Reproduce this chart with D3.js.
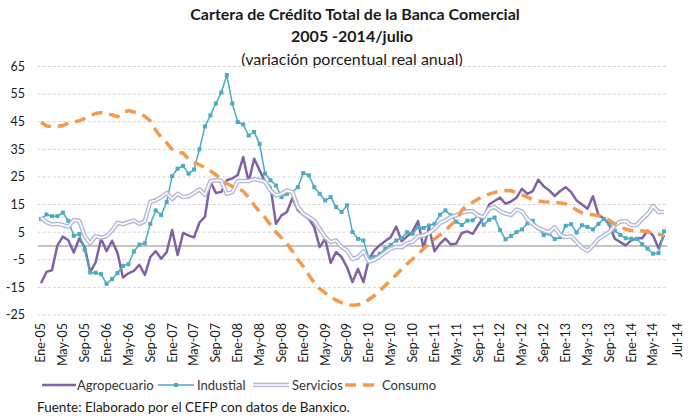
<!DOCTYPE html>
<html>
<head>
<meta charset="utf-8">
<script src="https://cdn.jsdelivr.net/npm/d3@7"></script>
<style>
    body { margin: 0; background: #fff; }
    svg { font-family: Lato, 'Liberation Sans', sans-serif; }
</style>
</head>
<body>
<div id="chart"></div>
<script>
// monthly series, Ene-05 .. Jul-14 (115 points)
var agropecuario = [
    -13.5, -9.4, -8.8, 0.2, 3.4, 2.1, -2.4, 2.7, -0.4, -9.5, -5.9, 2.6,
    -1.9, 1.9, -2.5, -11.4, -9.9, -9, -6.8, -10.5, -4, -1.9, -4.6, -2.2,
    5.8, -3.3, 4.7, 3.8, 3.1, 8.5, 10.6, 23.3, 19.2, 19.6, 23.8, 24.5,
    25.7, 32.2, 23.2, 31.6, 27.4, 23.2, 21.3, 8, 11.1, 12.3, 17.4, 12.9,
    11.3, 9.9, 6.8, -0.4, 2.6, -6.1, -2.2, -4, -7.7, -13.1, -8.3, -13.1,
    -4.7, -1.6, 0.3, 1.8, 3.2, 7, 1.7, 3.5, 5.2, 9, -0.7, 6.7,
    -1.9, 0.8, 2.7, 0.5, 0.9, 4.7, 5.3, 4.4, 7.6, 10.4, 15, 16.3,
    17.5, 15.3, 16.1, 17.5, 20.7, 18.9, 19.9, 24, 21.6, 20.1, 18.1, 19.9,
    21.3, 19.5, 16.5, 15, 13.5, 18, 11.3, 9.9, 7.7, 2.6, 1.4, 0.2,
    2, 2.8, 2.8, 5.6, 3.8, -0.8, 4
];
var industrial = [
    9.8, 11.4, 10.8, 10.8, 12.1, 9.1, 3.7, 4.3, -1.4, -9.6, -9.7, -10.2,
    -13.7, -12, -9.8, -7.2, -6.6, -2, 0.5, 1, 8, 12.9, 11.2, 15.9,
    25.3, 28, 29, 26.2, 27.7, 35, 43.3, 47.3, 51.6, 55.6, 61.9, 51.6,
    44.9, 44, 40, 41.3, 37, 26.2, 23.8, 21.9, 17.7, 18.9, 19.5, 21.3,
    26.4, 25.6, 21.3, 18.9, 16.5, 17.7, 14.1, 12.3, 14.7, 5, 2.6, 2,
    -4.3, -4, -2.8, -1, 0.4, 2, 2.8, 5, 4.4, 6.8, 6.5, 7.4,
    8, 11.3, 12.9, 11.1, 8.8, 7.6, 9.2, 9.3, 11.2, 7.7, 9.5, 10.3,
    5.8, 2.4, 3.6, 5, 6, 8.2, 9.1, 6.4, 4, 4.5, 2.5, 3.2,
    7.3, 7.9, 4.9, 7.5, 6.9, 6, 8, 9.8, 8, 5.6, 4, 2.8,
    2.6, 2.6, 0.6, -1, -2.8, -2.6, 5.3
];
var servicios = [
    10.3, 8.6, 7.8, 8, 7.6, 7, 9.4, 9.1, 3.6, 1, 3.6, 3,
    3.6, 5.6, 8.4, 7.9, 8.6, 9.2, 8, 9, 16, 16.5, 17.7, 19.2,
    17, 18.9, 17.7, 18, 19.2, 20.5, 18.5, 23.5, 23.8, 23.6, 18.9, 19.5,
    23.5, 23.5, 23.5, 24.2, 23.8, 23.2, 20.1, 18.3, 18.9, 20.1, 19.5, 14.1,
    11.7, 10.5, 9.2, 6.2, 3.2, 1.4, 2, -0.4, -1.6, -4.7, -4, -2,
    -5.7, -5, -3.8, -2.3, -1, -0.3, -0.5, 1, 1.5, 3.5, 3.8, 4.7,
    6.2, 8.3, 9.2, 10.5, 11.1, 12, 12.6, 12.6, 11, 10.5, 13.5, 14.1,
    12.6, 11.7, 11.2, 13.2, 12.5, 9.8, 7.8, 6.5, 5.6, 5, 6.8, 4,
    3.2, 3.5, 1.5, -0.6, -1.8, 0.2, 2.5, 3.8, 5, 7.5, 8.8, 9,
    7.5, 7.6, 9.8, 11.5, 14.5, 12.3, 12.3
];
var consumo = [
    44.8, 43.5, 43.2, 43.3, 43.6, 44.5, 45, 45.3, 46.2, 47.2, 48, 48.3,
    47.8, 47.5, 46.8, 48.3, 49, 48.5, 47.9, 47, 45.3, 41.9, 39.3, 37.3,
    35, 34, 33.6, 31.5, 30.3, 29.4, 28.4, 27.2, 25.8, 24, 22.6, 21.6,
    21, 19.8, 17.6, 14.8, 12.5, 10.3, 7.6, 5, 3, 0.8, -1.8, -5,
    -7.4, -10.5, -13.3, -15.5, -17, -18.5, -19.6, -20.5, -21.2, -21.5, -21.3, -20.6,
    -19.4, -18, -16.2, -14.3, -12.4, -10.4, -8.4, -6.5, -4.7, -2.9, -1, 0.8,
    2.5, 4, 5.6, 7.6, 9.2, 13, 14.7, 15.8, 17, 18, 18.8, 19.4,
    19.8, 20.1, 20, 19.3, 18.5, 17.7, 16.8, 16.3, 16, 15.9, 15.8, 15.6,
    15.2, 14.3, 13, 12, 11.5, 11.3, 11, 10.3, 9.3, 8, 6.9, 6.1,
    5.6, 5.4, 5.5, 5.2, 4.6, 4.2, 3.8
];

var yTicks = [-25, -15, -5, 5, 15, 25, 35, 45, 55, 65];
var xTickLabels = [
    'Ene-05', 'May-05', 'Sep-05', 'Ene-06', 'May-06', 'Sep-06', 'Ene-07', 'May-07',
    'Sep-07', 'Ene-08', 'May-08', 'Sep-08', 'Ene-09', 'May-09', 'Sep-09', 'Ene-10',
    'May-10', 'Sep-10', 'Ene-11', 'May-11', 'Sep-11', 'Ene-12', 'May-12', 'Sep-12',
    'Ene-13', 'May-13', 'Sep-13', 'Ene-14', 'May-14', 'Jul-14'
];
// month index of each label (the last one sits past the data, as in the original)
var xTickIndex = [
    0, 4, 8, 12, 16, 20, 24, 28, 32, 36, 40, 44, 48, 52, 56, 60,
    64, 68, 72, 76, 80, 84, 88, 92, 96, 100, 104, 108, 112, 116.5
];
var seriesNames = ['Agropecuario', 'Industial', 'Servicios', 'Consumo'];

var config = {
    width: 699,
    height: 420,
    colors: {
        agro: '#7f62a6',
        ind: '#4aabc2',
        serv: '#b5b9d8',
        cons: '#f5994d',
        grid: '#d4d4d4',
        zero: '#8a8a8a',
        text: '#1a1a1a'
    }
};

var svg = d3.select('#chart').append('svg')
    .attr('width', config.width)
    .attr('height', config.height);

var x = d3.scaleLinear().domain([0, 114]).range([41, 664]);
var y = d3.scaleLinear().domain([-25, 65]).range([315, 66.5]);

// titles
var title = svg.append('g').attr('text-anchor', 'middle').attr('fill', config.colors.text);
title.append('text').attr('x', 355).attr('y', 20)
    .style('font-size', '16px').style('font-weight', 'bold')
    .text('Cartera de Crédito Total de la Banca Comercial');
title.append('text').attr('x', 352).attr('y', 42)
    .style('font-size', '16px').style('font-weight', 'bold')
    .text('2005 -2014/julio');
title.append('text').attr('x', 352).attr('y', 65)
    .style('font-size', '16px')
    .text('(variación porcentual real anual)');

// grid
svg.append('g').selectAll('line')
    .data(yTicks)
    .enter().append('line')
    .attr('x1', x(-0.6)).attr('x2', x(114.6))
    .attr('y1', function(d) { return y(d); })
    .attr('y2', function(d) { return y(d); })
    .attr('stroke', config.colors.grid)
    .attr('stroke-dasharray', '3,2');

svg.append('line')
    .attr('x1', x(-0.6)).attr('x2', x(114.6))
    .attr('y1', y(0)).attr('y2', y(0))
    .attr('stroke', config.colors.zero);

// y labels
svg.append('g').selectAll('text')
    .data(yTicks)
    .enter().append('text')
    .attr('x', 25)
    .attr('y', function(d) { return y(d); })
    .attr('dy', '0.35em')
    .attr('text-anchor', 'end')
    .style('font-size', '12.5px')
    .attr('fill', config.colors.text)
    .text(function(d) { return d; });

// x labels, rotated
svg.append('g').selectAll('text')
    .data(xTickLabels)
    .enter().append('text')
    .attr('transform', function(d, i) {
        return 'translate(' + x(xTickIndex[i]) + ',323) rotate(-90)';
    })
    .attr('dy', '0.35em')
    .attr('text-anchor', 'end')
    .style('font-size', '12.5px')
    .attr('fill', config.colors.text)
    .text(function(d) { return d; });

var line = d3.line()
    .x(function(d, i) { return x(i); })
    .y(function(d) { return y(d); });

// series
svg.append('path').datum(agropecuario)
    .attr('d', line).attr('fill', 'none')
    .attr('stroke', config.colors.agro).attr('stroke-width', 2.5)
    .attr('stroke-linejoin', 'round');

svg.append('path').datum(industrial)
    .attr('d', line).attr('fill', 'none')
    .attr('stroke', config.colors.ind).attr('stroke-width', 1.5);
svg.append('g').selectAll('rect')
    .data(industrial)
    .enter().append('rect')
    .attr('x', function(d, i) { return x(i) - 2; })
    .attr('y', function(d) { return y(d) - 2; })
    .attr('width', 4).attr('height', 4)
    .attr('fill', config.colors.ind);

svg.append('path').datum(servicios)
    .attr('d', line).attr('fill', 'none')
    .attr('stroke', config.colors.serv).attr('stroke-width', 4.5)
    .attr('stroke-linejoin', 'round');
svg.append('path').datum(servicios)
    .attr('d', line).attr('fill', 'none')
    .attr('stroke', '#fff').attr('stroke-width', 1.6)
    .attr('stroke-linejoin', 'round');

svg.append('path').datum(consumo)
    .attr('d', line).attr('fill', 'none')
    .attr('stroke', config.colors.cons).attr('stroke-width', 3.5)
    .attr('stroke-dasharray', '11,7');

// legend
var legendY = 385;
var legendX = [42, 158, 253, 345];
var legend = svg.append('g');
legendX.forEach(function(lx, k) {
    var g = legend.append('g').attr('transform', 'translate(' + lx + ',' + legendY + ')');
    if (k === 0) {
        g.append('line').attr('x1', 0).attr('x2', 34)
            .attr('stroke', config.colors.agro).attr('stroke-width', 2.5);
    } else if (k === 1) {
        g.append('line').attr('x1', 0).attr('x2', 36)
            .attr('stroke', config.colors.ind).attr('stroke-width', 1.5);
        g.append('rect').attr('x', 16).attr('y', -2).attr('width', 4).attr('height', 4)
            .attr('fill', config.colors.ind);
    } else if (k === 2) {
        g.append('line').attr('x1', 0).attr('x2', 36)
            .attr('stroke', config.colors.serv).attr('stroke-width', 4.5);
        g.append('line').attr('x1', 0).attr('x2', 36)
            .attr('stroke', '#fff').attr('stroke-width', 1.6);
    } else {
        g.append('line').attr('x1', 0).attr('x2', 34)
            .attr('stroke', config.colors.cons).attr('stroke-width', 3.5)
            .attr('stroke-dasharray', '11,7');
    }
    g.append('text')
        .attr('x', k === 0 ? 35 : (k === 3 ? 37 : 39))
        .attr('dy', '0.35em')
        .style('font-size', '13px')
        .attr('fill', '#333')
        .text(seriesNames[k]);
});

// source
svg.append('text')
    .attr('x', 37).attr('y', 412)
    .style('font-size', '13.5px')
    .attr('fill', config.colors.text)
    .text('Fuente: Elaborado por el CEFP con datos de Banxico.');
</script>
</body>
</html>
